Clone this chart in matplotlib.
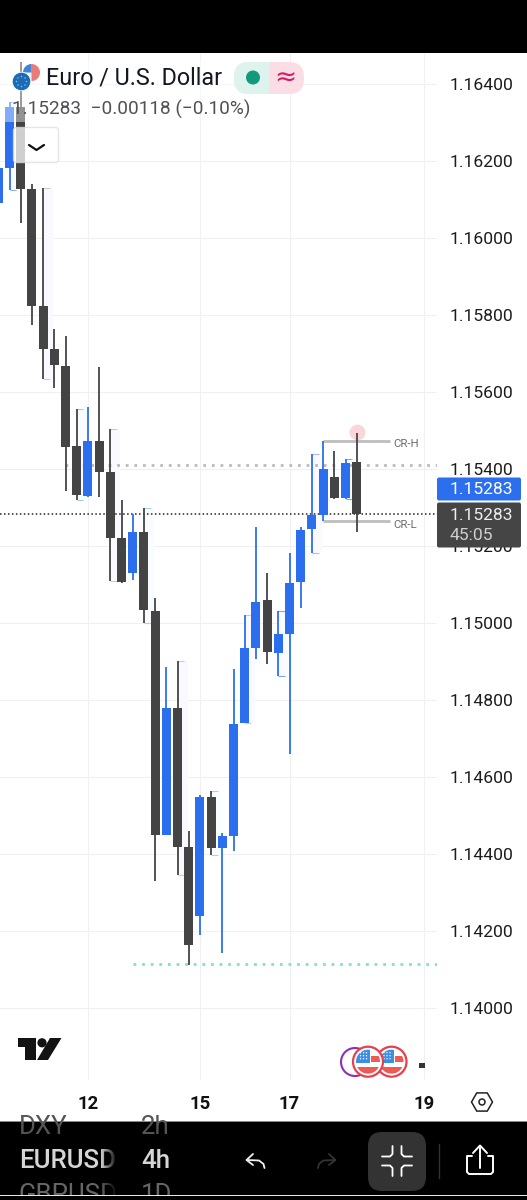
import numpy as np
import matplotlib
matplotlib.use('Agg')
import matplotlib.pyplot as plt
from matplotlib.patches import Rectangle, Circle, FancyBboxPatch, Polygon, Wedge

plt.rcParams['font.family'] = ['Roboto', 'DejaVu Sans']

# candles, 4h EURUSD, first one is cut by the left edge
opens = [1.16091, 1.16182, 1.16340, 1.16127, 1.15823, 1.15712, 1.15667, 1.15460, 1.15330, 1.15473, 1.15392, 1.15221,
         1.15130, 1.15236, 1.15031, 1.14449, 1.14779, 1.14418, 1.14239, 1.14548, 1.14416, 1.14447, 1.14740, 1.14935,
         1.15060, 1.14922, 1.14971, 1.15106, 1.15244, 1.15280, 1.15379, 1.15325, 1.15418]
highs = [1.16215, 1.16353, 1.16457, 1.16140, 1.16130, 1.15764, 1.15745, 1.15556, 1.15561, 1.15665, 1.15504, 1.15319,
         1.15283, 1.15299, 1.15065, 1.14886, 1.14901, 1.14460, 1.14553, 1.14564, 1.14455, 1.14881, 1.15021, 1.15249,
         1.15130, 1.15031, 1.15182, 1.15249, 1.15439, 1.15473, 1.15447, 1.15426, 1.15493]
lows = [1.16091, 1.16125, 1.16039, 1.15774, 1.15634, 1.15610, 1.15343, 1.15319, 1.15327, 1.15327, 1.15109, 1.15104,
        1.15112, 1.15000, 1.14330, 1.14449, 1.14346, 1.14112, 1.14190, 1.14398, 1.14143, 1.14408, 1.14740, 1.14907,
        1.14894, 1.14862, 1.14660, 1.15039, 1.15182, 1.15265, 1.15322, 1.15322, 1.15236]
closes = [1.16182, 1.16340, 1.16127, 1.15823, 1.15712, 1.15670, 1.15457, 1.15332, 1.15473, 1.15392, 1.15221, 1.15106,
          1.15236, 1.15034, 1.14449, 1.14779, 1.14418, 1.14164, 1.14548, 1.14416, 1.14447, 1.14738, 1.14935, 1.15055,
          1.14925, 1.14971, 1.15104, 1.15242, 1.15280, 1.15400, 1.15325, 1.15416, 1.15283]
first_index = -1

# higher timeframe ranges behind every third candle
ghost_index = [0, 3, 6, 9, 12, 15, 18, 21, 24, 27, 30]
ghost_fill = ['#fafcff', '#f9f9ff', '#f8fcff', '#f9f9ff', '#f8fcff', '#f9f9ff', '#f8fdff', '#f9f9ff', '#f8fbff',
              '#f9f9ff', '#f8fbff']
ghost_edge = ['#8fb4f2', '#c8c8e8', '#a5cbe8', '#c8c8e8', '#a5d5ea', '#c8c8e8', '#9adbe0', '#c8c8e8', '#7da5f0',
              '#b8b8e8', '#7da5f0']

price_ticks = [1.14, 1.142, 1.144, 1.146, 1.148, 1.15, 1.152, 1.154, 1.156, 1.158, 1.16, 1.162, 1.164]
time_ticks = [7, 17, 25, 37]
time_labels = ['12', '15', '17', '19']

last_price = 1.15283
level_gray = 1.15410
level_teal = 1.14115
cr_high = 1.15473
cr_low = 1.15265

BLUE = '#2c6fee'
DARK = '#444444'
W, H = 527, 1200

# pixel mapping of the chart area
def price_at(py):
    return 1.15 + (623 - py) / 38500

def index_at(px):
    return (px - 9.5) / 11.2

fig = plt.figure(figsize=(W / 100, H / 100), dpi=100, facecolor='white')
ax = fig.add_axes([0, 1 - 1080 / H, 437 / W, (1080 - 53) / H])
ax.set_xlim(index_at(0), index_at(437))
ax.set_ylim(price_at(1080), price_at(53))
ax.set_facecolor('white')
for s in ax.spines.values():
    s.set_visible(False)

ax.yaxis.tick_right()
ax.set_yticks(price_ticks)
ax.set_yticklabels(['%.5f' % p for p in price_ticks], fontsize=12.6, color='#1c1c1c')
ax.set_xticks(time_ticks)
ax.set_xticklabels(time_labels, fontsize=13.3, color='#111111', fontweight='bold')
ax.tick_params(axis='y', length=0, pad=9)
ax.tick_params(axis='x', length=0, pad=10.5)
ax.grid(True, color='#eff0f3', lw=0.8)
ax.set_axisbelow(True)

idx = np.arange(first_index, first_index + len(opens))
o, h, l, c = map(np.array, (opens, highs, lows, closes))
up = c >= o
colors = [BLUE if u else DARK for u in up]

# ghost ranges
for i, fill, edge in zip(ghost_index, ghost_fill, ghost_edge):
    k = i - first_index
    ax.add_patch(Rectangle((i, l[k]), 0.9, h[k] - l[k], fc=fill, ec='none', zorder=1))
    ax.hlines([h[k], l[k]], i, i + 0.6, color=edge, lw=0.8, zorder=1.5)

ax.hlines(level_gray, index_at(65), index_at(437), color='#b9bbc0', lw=2, linestyles=(0, (1, 2.1)), zorder=2)
ax.hlines(level_teal, index_at(133), index_at(437), color='#86dcd5', lw=2, linestyles=(0, (1, 2.1)), zorder=2)
ax.hlines(last_price, index_at(0), index_at(437), color='#222222', lw=1.1, linestyles=(0, (1, 1.6)), zorder=2)

ax.vlines(idx, l, h, color=colors, lw=1.3, zorder=3)
ax.bar(idx, np.abs(c - o), bottom=np.minimum(o, c), width=0.8, color=colors, lw=0, zorder=4)

# last candle high marker and CR levels
ax.scatter([31], [1.15495], s=130, color='#f9c9cc', alpha=0.75, lw=0, zorder=2.5)
ax.hlines([cr_high, cr_low], 28, index_at(390), color='#bdbdbd', lw=2, zorder=2.6)
ax.text(index_at(393), cr_high - 0.00008, 'CR-H', fontsize=8.2, color='#6a6a6a', va='center', ha='left')
ax.text(index_at(393), cr_low - 0.00010, 'CR-L', fontsize=8.2, color='#6a6a6a', va='center', ha='left')

# ui layer, pixel coordinates
ui = fig.add_axes([0, 0, 1, 1], zorder=5)
ui.set_xlim(0, W)
ui.set_ylim(H, 0)
ui.axis('off')
ui.patch.set_alpha(0)

ui.add_patch(Rectangle((0, 0), W, 52.5, fc='black', ec='none'))
ui.add_patch(Rectangle((0, 1121), W, 79, fc='black', ec='none'))
ui.add_patch(Rectangle((0, 1120.5), W, 1.2, fc='#8a8a8a', ec='none'))

# header
ui.add_patch(Rectangle((0, 60), 250, 62, fc='white', ec='none', alpha=0.42))
ui.add_patch(FancyBboxPatch((13.5, 127.5), 45, 35, boxstyle='round,pad=0,rounding_size=3', fc='white', ec='#dddddd',
                            lw=1, alpha=0.75))
ui.plot([29, 36.5, 44], [145, 150, 145], color='#111111', lw=1.6, solid_capstyle='round')
ui.add_patch(Circle((31.5, 72.5), 8.5, fc='#f3f3f3', ec='none'))
ui.add_patch(Wedge((31.5, 72.5), 8.5, 270, 90, fc='#e8534f', ec='none', alpha=0.75))
ui.add_patch(Wedge((31.5, 72.5), 8.5, 180, 270, fc='#3f86d8', ec='none'))
ui.add_patch(Circle((21.5, 81.5), 9.3, fc='#1b6cb5', ec='white', lw=0.6))
for a in np.arange(0, 360, 45):
    ui.add_patch(Circle((21.5 + 5 * np.cos(np.radians(a)), 81.5 + 5 * np.sin(np.radians(a))), 0.7, fc='#9cc6ea',
                        ec='none'))
ui.text(46, 78, 'Euro / U.S. Dollar', fontsize=16.8, color='#131722', va='center', ha='left')
ui.text(12, 109, '1.15283  \u22120.00118 (\u22120.10%)', fontsize=13.7, color='#4f5156', va='center', ha='left')

ui.add_patch(FancyBboxPatch((234, 62), 70, 32, boxstyle='round,pad=0,rounding_size=15', fc='#fbdde6', ec='none'))
left_pill = FancyBboxPatch((234, 62), 70, 32, boxstyle='round,pad=0,rounding_size=15', fc='#dff3ee', ec='none')
ui.add_patch(left_pill)
left_pill.set_clip_path(Rectangle((234, 60), 35, 36, transform=ui.transData))
ui.add_patch(Circle((253, 77.5), 7, fc='#129a7d', ec='none'))
ui.text(285.5, 78, '\u2248', fontsize=19, color='#d81b60', va='center', ha='center', family=['DejaVu Sans'])

# price labels
ui.add_patch(FancyBboxPatch((437, 477.5), 84, 23, boxstyle='round,pad=0,rounding_size=2', fc=BLUE, ec='none'))
ui.add_patch(FancyBboxPatch((437, 502.5), 84, 45, boxstyle='round,pad=0,rounding_size=2', fc='#454545', ec='none'))
ui.text(450, 490, '1.15283', fontsize=12.6, color='white', va='center', ha='left')
ui.text(450, 515, '1.15283', fontsize=12.6, color='#eeeeee', va='center', ha='left')
ui.text(450, 536, '45:05', fontsize=12.6, color='#cfcfcf', va='center', ha='left')

# tradingview logo
ui.add_patch(Polygon([(17.5, 1038), (36, 1038), (36, 1060), (25, 1060), (25, 1047), (17.5, 1047)], fc='#131313',
                     ec='none'))
ui.add_patch(Circle((42, 1042.8), 4.6, fc='#131313', ec='none'))
ui.add_patch(Polygon([(50, 1038), (61.5, 1038), (48, 1060), (37, 1060)], fc='#131313', ec='none'))

# event badges
ui.add_patch(Circle((355, 1062), 14, fc='white', ec='#8e2fb5', lw=1.5))
for cx in [391.5, 368]:
    ui.add_patch(Circle((cx, 1061.7), 15, fc='white', ec='#e5404e', lw=1.6))
    inner = Circle((cx, 1061.7), 12, transform=ui.transData)
    for rect in [Rectangle((cx - 13, 1066.5), 26, 7, fc='#ee5a55', ec='none'),
                 Rectangle((cx + 3, 1056), 11, 6, fc='#ee5a55', ec='none'),
                 Rectangle((cx - 13, 1049), 15, 14, fc='#3a8ee6', ec='none')]:
        ui.add_patch(rect)
        rect.set_clip_path(inner)
    for dx in [-8, -5, -2]:
        for dy in [-9, -6, -3]:
            ui.add_patch(Circle((cx + dx + 0.5, 1061.7 + dy), 0.7, fc='white', ec='none'))
ui.add_patch(Rectangle((419, 1062.5), 5.5, 5.5, fc='#333333', ec='none'))

# settings hexagon
ang = np.radians(np.arange(0, 360, 60))
ui.add_patch(Polygon(np.c_[482 + 10.5 * np.cos(ang), 1102 + 10.5 * np.sin(ang)], fc='none', ec='#222222', lw=1.1))
ui.add_patch(Circle((482, 1102), 3, fc='none', ec='#222222', lw=1.1))

# bottom bar
clip = Rectangle((0, 1122), W, 73, transform=ui.transData)
rows = [('DXY', '2h', 1126.5, '#555555', 'normal'), ('EURUSD', '4h', 1161, '#d6d6d6', 'medium'),
        ('GBPUSD', '1D', 1194.5, '#666666', 'normal')]
for name, tf, y, col, wt in rows:
    t1 = ui.text(19, y, name, fontsize=18.6, color=col, fontweight=wt, va='center', ha='left', zorder=2)
    t2 = ui.text(141, y, tf, fontsize=18.6, color=col, fontweight=wt, va='center', ha='left', zorder=2)
    t1.set_clip_path(clip)
    t2.set_clip_path(clip)
fade = np.zeros((1, 30, 4))
fade[0, :, 3] = np.linspace(0, 1, 30)
ui.imshow(fade, extent=(100, 118, 1195, 1122), aspect='auto', zorder=3)
ui.add_patch(Rectangle((118, 1122), 20, 73, fc='black', ec='none', zorder=3))
ui.set_xlim(0, W)
ui.set_ylim(H, 0)
ui.add_patch(Rectangle((0, 1194.5), W, 1.3, fc='#e8e8e8', ec='none', zorder=4))
ui.add_patch(Rectangle((0, 1195.8), W, 5, fc='black', ec='none', zorder=4))

# undo, redo
ui.plot([264.5, 263.5, 259, 247], [1168, 1164, 1160.5, 1160], color='#f0f0f0', lw=1.3, solid_capstyle='round')
ui.plot([253, 246.5, 253], [1154, 1160, 1165], color='#f0f0f0', lw=1.3, solid_capstyle='round')
ui.plot([318, 319, 323.5, 335], [1168, 1164, 1160.5, 1160], color='#333333', lw=1.3, solid_capstyle='round')
ui.plot([329, 335.5, 329], [1154, 1160, 1165], color='#333333', lw=1.3, solid_capstyle='round')

# collapse button
ui.add_patch(FancyBboxPatch((368, 1132), 58, 59, boxstyle='round,pad=0,rounding_size=14', fc='#333333', ec='none'))
for sx, sy in [(-1, -1), (1, -1), (-1, 1), (1, 1)]:
    ui.plot([397 + sx * 15, 397 + sx * 7, 397 + sx * 4.5, 397 + sx * 4.5],
            [1161 + sy * 4.5, 1161 + sy * 4.5, 1161 + sy * 7, 1161 + sy * 15],
            color='white', lw=1.3, solid_capstyle='round')
ui.plot([438.5, 438.5], [1144, 1178], color='#333333', lw=1)

# share
ui.plot([480, 480], [1146, 1168], color='white', lw=1.4, solid_capstyle='round')
ui.plot([473, 480, 487], [1153, 1145.5, 1153], color='white', lw=1.4, solid_capstyle='round', solid_joinstyle='round')
ui.plot([472, 467, 467, 469, 491, 493, 493, 488], [1156, 1156, 1172, 1174, 1174, 1172, 1156, 1156], color='white',
        lw=1.4, solid_joinstyle='round', solid_capstyle='round')

plt.savefig('out.png', dpi=100)
